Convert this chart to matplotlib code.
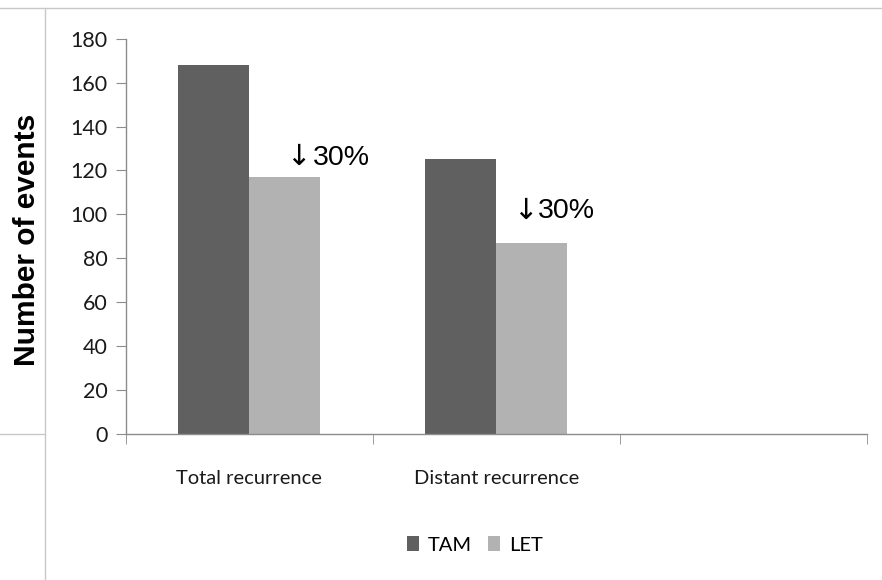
import matplotlib
matplotlib.use("Agg")
import matplotlib.pyplot as plt
from matplotlib.lines import Line2D
from matplotlib.patches import Patch

categories = ["Total recurrence", "Distant recurrence", ""]
series_names = ["TAM", "LET"]
tam_values = [168, 125]
let_values = [117, 87]
change_labels = ["30%", "30%"]
y_ticks = [0, 20, 40, 60, 80, 100, 120, 140, 160, 180]

TAM_COLOR = "#606060"
LET_COLOR = "#b2b2b2"
AXIS_COLOR = "#8c8c8c"
TEXT_COLOR = "#1a1a1a"
TICK_FONT = "Lato"

W, H = 882, 580
fig = plt.figure(figsize=(W / 100, H / 100), dpi=100)
fig.patch.set_facecolor("white")

# thin frame lines around the chart area
frame = dict(color="#c8c8c8", lw=1.0, transform=fig.transFigure)
fig.add_artist(Line2D([0, 1], [1 - 8 / H, 1 - 8 / H], **frame))
fig.add_artist(Line2D([45 / W, 45 / W], [0, 1 - 8 / H], **frame))
fig.add_artist(Line2D([0, 45 / W], [1 - 434 / H, 1 - 434 / H], **frame))

left, right, top, bottom = 125.5, 867, 38.7, 434
ax = fig.add_axes([left / W, 1 - bottom / H, (right - left) / W, (bottom - top) / H])

bar_w = 0.287
x_tam = [i - bar_w / 2 for i in range(len(tam_values))]
x_let = [i + bar_w / 2 for i in range(len(let_values))]
ax.bar(x_tam, tam_values, width=bar_w, color=TAM_COLOR, label=series_names[0], zorder=2)
ax.bar(x_let, let_values, width=bar_w, color=LET_COLOR, label=series_names[1], zorder=2)

ax.set_xlim(-0.5, len(categories) - 0.5)
ax.set_ylim(0, 180)

for s in ["top", "right"]:
    ax.spines[s].set_visible(False)
for s in ["left", "bottom"]:
    ax.spines[s].set_color(AXIS_COLOR)
    ax.spines[s].set_linewidth(1.0)

ax.set_yticks(y_ticks)
ax.tick_params(axis="y", direction="out", length=7, color=AXIS_COLOR,
               labelsize=15.5, labelcolor=TEXT_COLOR, pad=6)
for lab in ax.get_yticklabels():
    lab.set_fontfamily(TICK_FONT)

ax.set_xticks(range(len(categories)))
ax.set_xticklabels(categories, fontfamily=TICK_FONT, fontsize=14.5, color=TEXT_COLOR)
ax.tick_params(axis="x", which="major", length=0, pad=26)
ax.set_xticks([i - 0.5 for i in range(len(categories) + 1)], minor=True)
ax.tick_params(axis="x", which="minor", direction="out", length=7, color=AXIS_COLOR)

# percentage change annotations above the LET bars: a down arrow and the figure
arrow_offsets = [(13.5, 20), (-6, 32.5)]
text_offsets = [(28.5, 12), (6.5, 25)]
for i, (v, txt) in enumerate(zip(let_values, change_labels)):
    ax.annotate("\u2193", xy=(x_let[i], v), xytext=arrow_offsets[i],
                textcoords="offset pixels", fontsize=21, family="DejaVu Sans",
                color="black", ha="center", va="center")
    ax.annotate(txt, xy=(x_let[i], v), xytext=text_offsets[i],
                textcoords="offset pixels", fontsize=20.5, family="Liberation Sans",
                color="black", ha="left", va="baseline")

fig.text(27 / W, 1 - 240 / H, "Number of events", rotation=90, ha="center", va="center",
         fontsize=21.5, fontweight="bold", family="Liberation Sans", color="black")

handles = [Patch(facecolor=TAM_COLOR), Patch(facecolor=LET_COLOR)]
fig.legend(handles, series_names, loc="center", bbox_to_anchor=(475 / W, 1 - 545 / H),
           ncol=2, frameon=False, handlelength=0.6, handleheight=0.75, handletextpad=0.45,
           columnspacing=0.8, prop={"family": TICK_FONT, "size": 14.5})

fig.savefig("out.png", dpi=100, facecolor="white")
